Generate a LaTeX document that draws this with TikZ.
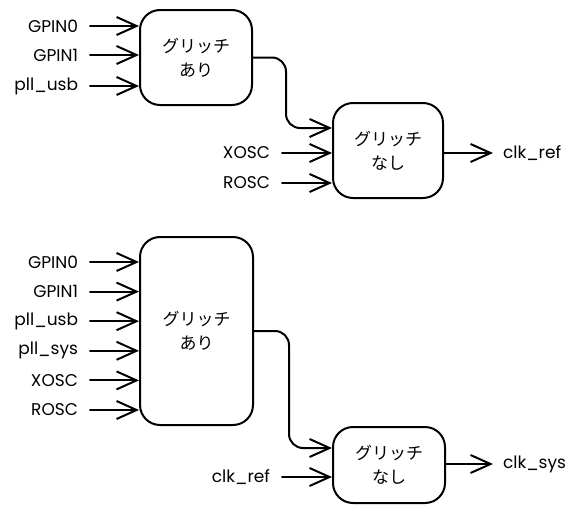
\documentclass[tikz,border=0pt]{standalone}
\usepackage{fontspec}
\setmainfont{Noto Sans CJK JP}
\newfontfamily\sigfont{Poppins}
\usetikzlibrary{arrows.meta}
\tikzset{
    glitchy/.style={rectangle, rounded corners=20pt, draw=black, line width=2pt, align=center, font=\fontsize{17}{24}\selectfont},
    sig/.style={inner sep=0pt, font=\sigfont\fontsize{17}{20}\selectfont},
    insig/.style={sig, anchor=east, outer xsep=12pt},
    outsig/.style={sig, anchor=west, outer xsep=10pt},
    arrow/.style={line width=2pt, line cap=round, -{Straight Barb[length=20pt,width=18pt]}}
}
\begin{document}
\begin{tikzpicture}[x=1pt, y=-1pt]
    \useasboundingbox (0,0) rectangle (584,514);

    % top
    \node (glitch1) [glitchy, minimum width=112pt, minimum height=95pt] at (196,57.5) {グリッチ\\あり};
    \node (clean1) [glitchy, minimum width=110pt, minimum height=95pt] at (388,150.5) {グリッチ\\なし};
    \node (in1a) [insig] at (90,26) {GPIN0};
    \node (in1b) [insig] at (90,55) {GPIN1};
    \node (in1c) [insig] at (90,86) {pll\_usb};
    \node (in1d) [insig] at (282,153) {XOSC};
    \node (in1e) [insig] at (282,183) {ROSC};
    \node (out1) [outsig] at (493,153) {clk\_ref};
    \coordinate (bend1) at (286,128);

    \draw [arrow] (in1a) -- (in1a -| glitch1.west);
    \draw [arrow] (in1b) -- (in1b -| glitch1.west);
    \draw [arrow] (in1c) -- (in1c -| glitch1.west);
    \draw [arrow] (in1d) -- (in1d -| clean1.west);
    \draw [arrow] (in1e) -- (in1e -| clean1.west);
    \draw [arrow, rounded corners=14pt] (glitch1.east) -| (bend1) -- (bend1 -| clean1.west);
    \draw [arrow] (out1 -| clean1.east) -- (out1);

    % bottom
    \node (glitch2) [glitchy, minimum width=113pt, minimum height=188pt] at (196.5,331) {グリッチ\\あり};
    \node (clean2) [glitchy, minimum width=112pt, minimum height=76pt] at (389,465) {グリッチ\\なし};
    \node (in2a) [insig] at (90,262) {GPIN0};
    \node (in2b) [insig] at (90,291.6) {GPIN1};
    \node (in2c) [insig] at (90,321.2) {pll\_usb};
    \node (in2d) [insig] at (90,350.8) {pll\_sys};
    \node (in2e) [insig] at (90,380.4) {XOSC};
    \node (in2f) [insig] at (90,410) {ROSC};
    \node (in2g) [insig] at (282,477) {clk\_ref};
    \node (out2) [outsig] at (493,464) {clk\_sys};
    \coordinate (bend2) at (289,448);

    \draw [arrow] (in2a) -- (in2a -| glitch2.west);
    \draw [arrow] (in2b) -- (in2b -| glitch2.west);
    \draw [arrow] (in2c) -- (in2c -| glitch2.west);
    \draw [arrow] (in2d) -- (in2d -| glitch2.west);
    \draw [arrow] (in2e) -- (in2e -| glitch2.west);
    \draw [arrow] (in2f) -- (in2f -| glitch2.west);
    \draw [arrow] (in2g) -- (in2g -| clean2.west);
    \draw [arrow, rounded corners=14pt] (glitch2.east) -| (bend2) -- (bend2 -| clean2.west);
    \draw [arrow] (out2 -| clean2.east) -- (out2);

\end{tikzpicture}
\end{document}
